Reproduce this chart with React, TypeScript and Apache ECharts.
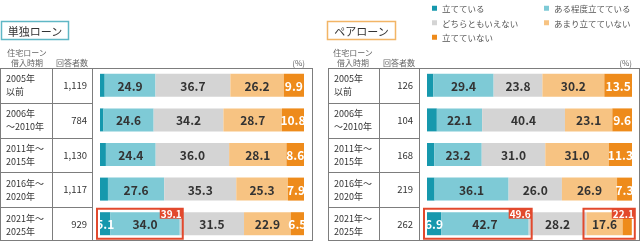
import React, { useEffect, useRef } from "react";
import * as echarts from "echarts";

const FONT = '"Noto Sans CJK JP", "Noto Sans", sans-serif';

const periods = ["2005年\n以前", "2006年\n～2010年", "2011年～\n2015年", "2016年～\n2020年", "2021年～\n2025年"];
const singleCounts = ["1,119", "784", "1,130", "1,117", "929"];
const pairCounts = ["126", "104", "168", "219", "262"];
const categories = ["立てている", "ある程度立てている", "どちらともいえない", "あまり立てていない", "立てていない"];
const colors = ["#1698ad", "#7ecad6", "#d4d4d4", "#f7c382", "#ee8b1b"];

const single1 = [2.3, 1.7, 2.9, 3.9, 5.1];
const single2 = [24.9, 24.6, 24.4, 27.6, 34.0];
const single3 = [36.7, 34.2, 36.0, 35.3, 31.5];
const single4 = [26.2, 28.7, 28.1, 25.3, 22.9];
const single5 = [9.9, 10.8, 8.6, 7.9, 6.5];

const pair1 = [3.1, 4.8, 3.5, 3.7, 6.9];
const pair2 = [29.4, 22.1, 23.2, 36.1, 42.7];
const pair3 = [23.8, 40.4, 31.0, 26.0, 28.2];
const pair4 = [30.2, 23.1, 31.0, 26.9, 17.6];
const pair5 = [13.5, 9.6, 11.3, 7.3, 4.5];

// which rows show a value label, per segment
const singleLabelRows = [[4], [0, 1, 2, 3, 4], [0, 1, 2, 3, 4], [0, 1, 2, 3, 4], [0, 1, 2, 3, 4]];
const pairLabelRows = [[4], [0, 1, 2, 3, 4], [0, 1, 2, 3, 4], [0, 1, 2, 3, 4], [0, 1, 2, 3]];

// highlighted spans: row, first segment, last segment
const singleHighlights = [{ row: 4, from: 0, to: 1 }];
const pairHighlights = [
  { row: 4, from: 0, to: 1 },
  { row: 4, from: 3, to: 4 },
];

const GRID_TOP = 68;
const GRID_H = 174;

export default function App() {
  const ref = useRef<HTMLDivElement>(null);
  useEffect(() => {
    if (!ref.current) return;
    const chart = echarts.init(ref.current, null, { renderer: "svg" });

    const singleSeries = [single1, single2, single3, single4, single5];
    const pairSeries = [pair1, pair2, pair3, pair4, pair5];

    const makeBars = (sets: number[][], labelRows: number[][], yIdx: number, xIdx: number) =>
      sets.map((vals, si) => ({
        type: "bar",
        name: categories[si],
        stack: "s" + xIdx,
        xAxisIndex: xIdx,
        yAxisIndex: yIdx,
        barWidth: 23,
        itemStyle: { color: colors[si] },
        data: vals.map((v, ri) => ({
          value: v,
          label: { show: labelRows[si].includes(ri) },
        })),
        label: {
          position: "inside",
          fontFamily: FONT,
          fontSize: 12,
          fontWeight: "bold",
          color: si === 0 || si === 4 ? "#ffffff" : "#333333",
          formatter: (p: any) => Number(p.value).toFixed(1),
        },
      }));

    const makeHighlight = (sets: number[][], hl: { row: number; from: number; to: number }[], yIdx: number, xIdx: number) => {
      const data = hl.map((h) => {
        let start = 0;
        for (let i = 0; i < h.from; i++) start += sets[i][h.row];
        let span = 0;
        for (let i = h.from; i <= h.to; i++) span += sets[i][h.row];
        return [h.row, start, start + span, span.toFixed(1)];
      });
      return {
        type: "custom",
        xAxisIndex: xIdx,
        yAxisIndex: yIdx,
        z: 10,
        encode: { x: [1, 2], y: 0 },
        data,
        renderItem: (params: any, api: any) => {
          const row = api.value(0);
          const p0 = api.coord([api.value(1), row]);
          const p1 = api.coord([api.value(2), row]);
          const label = data[params.dataIndex][3] as string;
          const x0 = p0[0] - 3;
          const x1 = p1[0] + 3;
          const y0 = p0[1] - 15;
          const h = 30;
          const lw = 23;
          return {
            type: "group",
            children: [
              { type: "rect", shape: { x: x0, y: y0, width: x1 - x0, height: h }, style: { fill: "none", stroke: "#e2492d", lineWidth: 2 } },
              { type: "rect", shape: { x: x1 - lw, y: y0, width: lw, height: 10 }, style: { fill: "#e2492d" } },
              { type: "text", x: x1 - lw / 2, y: y0 + 5, style: { text: label, fill: "#fff", fontSize: 10, fontWeight: "bold", fontFamily: FONT, align: "center", verticalAlign: "middle" } },
            ],
          };
        },
      };
    };

    const band = GRID_H / 5;
    const lineStyle = { stroke: "#7d7d7d", lineWidth: 1 };
    const tableLines = (x0: number, c1: number, c2: number, x1: number) => {
      const els: any[] = [
        { type: "line", shape: { x1: x0, y1: GRID_TOP + 0.5, x2: x1, y2: GRID_TOP + 0.5 }, style: lineStyle },
        { type: "line", shape: { x1: x0, y1: 240.5, x2: x1, y2: 240.5 }, style: lineStyle },
        { type: "line", shape: { x1: x0, y1: GRID_TOP, x2: x0, y2: 241 }, style: lineStyle },
        { type: "line", shape: { x1: c1, y1: GRID_TOP, x2: c1, y2: 241 }, style: lineStyle },
        { type: "line", shape: { x1: c2, y1: GRID_TOP, x2: c2, y2: 241 }, style: lineStyle },
        { type: "line", shape: { x1: x1, y1: GRID_TOP, x2: x1, y2: 241 }, style: lineStyle },
      ];
      for (let k = 1; k < 5; k++) {
        const y = Math.round(GRID_TOP + k * band) + 0.5;
        els.push({ type: "line", shape: { x1: x0, y1: y, x2: c2, y2: y }, style: lineStyle });
      }
      return els;
    };

    const periodTexts = (x: number) =>
      periods.map((p, i) => ({
        type: "text",
        x,
        y: GRID_TOP + (i + 0.5) * band,
        style: { text: p, fontSize: 9, lineHeight: 13.2, fill: "#333", align: "left", verticalAlign: "middle", fontFamily: FONT },
      }));

    const headerText = (cx1: number, cx2: number, pctRight: number) => [
      { type: "text", x: cx1, y: 57, style: { text: "住宅ローン\n借入時期", fontSize: 8, lineHeight: 10, fill: "#666", align: "center", verticalAlign: "middle", fontFamily: FONT } },
      { type: "text", x: cx2, y: 62, style: { text: "回答者数", fontSize: 8, fill: "#666", align: "center", verticalAlign: "middle", fontFamily: FONT } },
      { type: "text", x: pctRight, y: 62, style: { text: "(%)", fontSize: 8, fill: "#666", align: "right", verticalAlign: "middle", fontFamily: FONT } },
    ];

    const titleBox = (x: number, w: number, stroke: string, text: string) => [
      { type: "rect", shape: { x, y: 21.5, width: w, height: 18 }, style: { fill: "#fff", stroke, lineWidth: 1.5 } },
      { type: "text", x: x + w / 2, y: 31, style: { text, fontSize: 11, fill: "#333", align: "center", verticalAlign: "middle", fontFamily: FONT } },
    ];

    const yAxisBase = (data: string[], gridIndex: number, margin: number, show: boolean) => ({
      type: "category",
      gridIndex,
      position: "left",
      inverse: true,
      data,
      axisLine: { show: false },
      axisTick: { show: false },
      splitLine: { show: false },
      axisLabel: {
        show,
        margin,
        fontFamily: FONT,
        fontSize: 9.5,
        color: "#333",
      },
    });

    chart.setOption({
      animation: false,
      textStyle: { fontFamily: FONT },
      legend: {
        data: categories,
        left: 432,
        top: 1,
        padding: 0,
        width: 230,
        orient: "horizontal",
        icon: "rect",
        itemWidth: 5,
        itemHeight: 5,
        itemGap: 0,
        selectedMode: false,
        textStyle: { fontSize: 8.5, color: "#555", width: 102, lineHeight: 14.5, fontFamily: FONT },
      },
      grid: [
        { left: 100, right: 640 - 304, top: GRID_TOP, height: GRID_H },
        { left: 427, right: 640 - 632, top: GRID_TOP, height: GRID_H },
      ],
      xAxis: [
        { type: "value", gridIndex: 0, min: 0, max: 100, show: false },
        { type: "value", gridIndex: 1, min: 0, max: 100, show: false },
      ],
      yAxis: [
        yAxisBase(periods, 0, 94, false),
        yAxisBase(singleCounts, 0, 13, true),
        yAxisBase(periods, 1, 93, false),
        yAxisBase(pairCounts, 1, 14, true),
      ],
      graphic: [
        ...tableLines(0.5, 52.5, 92.5, 312.5),
        ...tableLines(328.5, 379.5, 419.5, 639.5),
        ...periodTexts(6),
        ...periodTexts(334),
        ...headerText(27, 72, 305),
        ...headerText(353, 399, 632),
        ...titleBox(1.5, 67, "#5fb7c5", "単独ローン"),
        ...titleBox(327.5, 68, "#f2b566", "ペアローン"),
      ],
      series: [
        ...makeBars(singleSeries, singleLabelRows, 0, 0),
        ...makeBars(pairSeries, pairLabelRows, 2, 1),
        makeHighlight(singleSeries, singleHighlights, 0, 0),
        makeHighlight(pairSeries, pairHighlights, 2, 1),
      ],
    });
    return () => chart.dispose();
  }, []);
  return <div ref={ref} style={{ width: 640, height: 241, position: "fixed", left: 0, top: 0 }} />;
}
